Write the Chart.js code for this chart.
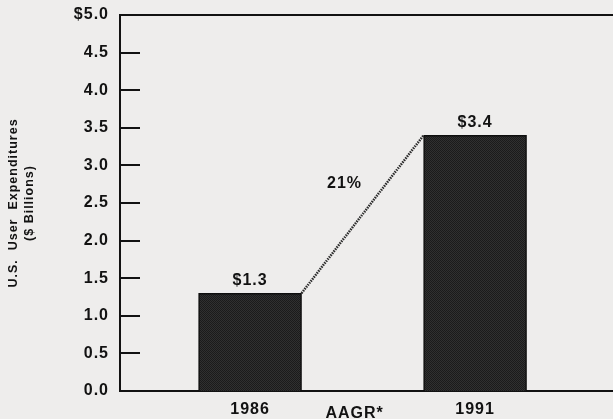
<!DOCTYPE html>
<html>
<head>
<meta charset="utf-8">
<script src="https://cdn.jsdelivr.net/npm/chart.js@4/dist/chart.umd.min.js"></script>
<style>
  html, body { margin: 0; padding: 0; background: #eeedec; }
  #wrap { width: 613px; height: 419px; }
  canvas { display: block; }
</style>
</head>
<body>
<div id="wrap"><canvas id="chart" width="613" height="419"></canvas></div>
<script>
// U.S. user expenditures, $ billions
const years = ['1986', '1991'];
const expenditures = [1.3, 3.4];
const valueLabels = ['$1.3', '$3.4'];
const growthRate = '21%';
const growthCaption = 'AAGR*';
const yTickValues = [0.0, 0.5, 1.0, 1.5, 2.0, 2.5, 3.0, 3.5, 4.0, 4.5, 5.0];
const yTickLabels = ['0.0', '0.5', '1.0', '1.5', '2.0', '2.5', '3.0', '3.5', '4.0', '4.5', '$5.0'];
const yTitle = ['U.S.  User  Expenditures', '($ Billions)'];

const FONT = "'Liberation Sans', Arial, Helvetica, sans-serif";
const INK = '#121212';
const TRACKING = '1px';

// fine dithered fill for the bars
const tile = document.createElement('canvas');
tile.width = 2; tile.height = 2;
const tc = tile.getContext('2d');
tc.fillStyle = '#303030'; tc.fillRect(0, 0, 2, 2);
tc.fillStyle = '#1b1b1b'; tc.fillRect(0, 0, 1, 1); tc.fillRect(1, 1, 1, 1);
const canvas = document.getElementById('chart');
const barFill = canvas.getContext('2d').createPattern(tile, 'repeat');

const decor = {
  id: 'decor',
  beforeDraw(chart) {
    chart.ctx.letterSpacing = TRACKING;
  },
  afterDatasetsDraw(chart) {
    const { ctx, chartArea: a, scales: { y } } = chart;
    ctx.save();
    ctx.letterSpacing = TRACKING;
    ctx.strokeStyle = INK;
    ctx.lineWidth = 2;
    ctx.beginPath();
    // top frame line
    const top = Math.round(y.getPixelForValue(yTickValues[yTickValues.length - 1]));
    ctx.moveTo(a.left - 1, top);
    ctx.lineTo(chart.width, top);
    // inward tick marks
    yTickValues.forEach(v => {
      if (v === yTickValues[0] || v === yTickValues[yTickValues.length - 1]) return;
      const py = Math.round(y.getPixelForValue(v));
      ctx.moveTo(a.left, py);
      ctx.lineTo(a.left + 20, py);
    });
    ctx.stroke();

    const bars = chart.getDatasetMeta(0).data;
    const b0 = bars[0], b1 = bars[1];
    const x0 = b0.x + b0.width / 2, y0 = b0.y;
    const x1 = b1.x - b1.width / 2, y1 = b1.y;

    // growth connector between bar tops
    ctx.beginPath();
    ctx.setLineDash([1.5, 1]);
    ctx.lineWidth = 2.5;
    ctx.strokeStyle = '#2a2a2a';
    ctx.moveTo(x0, y0);
    ctx.lineTo(x1, y1);
    ctx.stroke();
    ctx.setLineDash([]);

    ctx.fillStyle = INK;
    ctx.font = 'bold 16px ' + FONT;
    ctx.textAlign = 'center';

    // value labels above the bars
    ctx.textBaseline = 'alphabetic';
    bars.forEach((b, i) => {
      ctx.fillText(valueLabels[i], b.x, b.y - 8);
    });

    // growth rate beside the connector
    ctx.textBaseline = 'middle';
    ctx.fillText(growthRate, (x0 + x1) / 2 - 18, (y0 + y1) / 2 - 31);

    // caption between the year labels
    ctx.fillText(growthCaption, (b0.x + b1.x) / 2 - 8, a.bottom + 23);
    ctx.restore();
  }
};

new Chart(canvas, {
  type: 'bar',
  data: {
    datasets: [{
      data: expenditures.map((v, i) => ({ x: i, y: v })),
      backgroundColor: barFill,
      borderColor: '#0e0e0e',
      borderWidth: 1.5,
      barThickness: 103
    }]
  },
  options: {
    responsive: false,
    animation: false,
    devicePixelRatio: 1,
    layout: { padding: { top: 15, right: 0, bottom: 0, left: 0 } },
    plugins: { legend: { display: false }, tooltip: { enabled: false } },
    scales: {
      x: {
        type: 'linear',
        offset: false,
        bounds: 'data',
        min: -0.578,
        max: 1.613,
        afterBuildTicks: s => { s.ticks = years.map((_, i) => ({ value: i })); },
        grid: { display: false, drawTicks: false, offset: false },
        border: { display: true, color: INK, width: 2 },
        ticks: {
          callback: v => years[v],
          color: INK,
          font: { family: FONT, size: 16, weight: 'bold' },
          padding: 9,
          autoSkip: false,
          maxRotation: 0
        },
        afterFit: s => { s.height = 28; s.paddingLeft = 0; s.paddingRight = 0; }
      },
      y: {
        min: 0,
        max: 5,
        afterBuildTicks: s => { s.ticks = yTickValues.map(v => ({ value: v })); },
        grid: { display: false, drawTicks: false },
        border: { display: true, color: INK, width: 2 },
        ticks: {
          callback: (v, i) => yTickLabels[i],
          color: INK,
          font: { family: FONT, size: 16, weight: 'bold' },
          padding: 11
        },
        title: {
          display: true,
          text: yTitle,
          color: INK,
          font: { family: FONT, size: 12.5, weight: 'bold', lineHeight: 1.3 },
          padding: { top: 5, bottom: 0 }
        },
        afterFit: s => { s.width = 120; s.paddingTop = 0; s.paddingBottom = 0; }
      }
    }
  },
  plugins: [decor]
});
</script>
</body>
</html>
